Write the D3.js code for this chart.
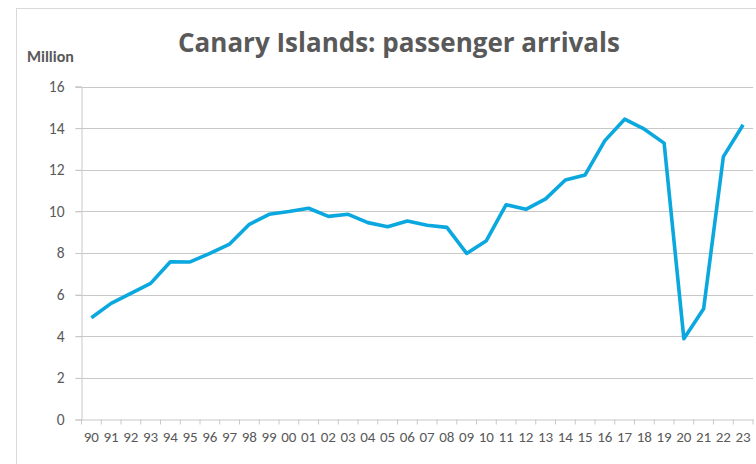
<!DOCTYPE html>
<html>
<head>
<meta charset="utf-8">
<script src="https://cdn.jsdelivr.net/npm/d3@7"></script>
<style>
  body { margin: 0; background: #fff; }
  svg { display: block; }
</style>
</head>
<body>
<div id="chart"></div>
<script>
const years = ["90","91","92","93","94","95","96","97","98","99","00","01","02","03","04","05","06",
  "07","08","09","10","11","12","13","14","15","16","17","18","19","20","21","22","23"];
const arrivals = [4.89, 5.58, 6.06, 6.54, 7.58, 7.57, 7.98, 8.43, 9.38, 9.86, 9.99, 10.15, 9.76, 9.86,
  9.46, 9.26, 9.54, 9.33, 9.23, 7.98, 8.59, 10.32, 10.10, 10.60, 11.51, 11.75, 13.40, 14.43, 13.95,
  13.28, 3.88, 5.32, 12.63, 14.16];
const yTicks = [0, 2, 4, 6, 8, 10, 12, 14, 16];

const width = 756;
const height = 464;
const plot = { left: 81.5, right: 753, top: 86.5, bottom: 419.5 };
const font = "Calibri, Carlito, Lato, sans-serif";
const grey = "#595959";

const svg = d3.select("#chart")
  .append("svg")
  .attr("width", width)
  .attr("height", height)
  .style("font-family", font);

// chart frame
svg.append("rect")
  .attr("x", 16.5).attr("y", 8.5)
  .attr("width", 760).attr("height", 480)
  .attr("fill", "none")
  .attr("stroke", "#d9d9d9");

const x = d3.scaleBand().domain(years).range([plot.left, plot.right]);
const y = d3.scaleLinear().domain([0, 16]).range([plot.bottom, plot.top]);

// gridlines
svg.append("g")
  .selectAll("line")
  .data(yTicks.slice(1))
  .join("line")
  .attr("x1", plot.left - 6).attr("x2", plot.right)
  .attr("y1", (d) => Math.round(y(d)) + 0.5)
  .attr("y2", (d) => Math.round(y(d)) + 0.5)
  .attr("stroke", "#c8c8c8");

// y axis
const yAxis = svg.append("g")
  .attr("transform", `translate(${plot.left}, 0)`)
  .call(d3.axisLeft(y).tickValues(yTicks).tickSize(6).tickPadding(11));
yAxis.select(".domain").attr("stroke", "#c8c8c8");
yAxis.selectAll(".tick line").attr("stroke", "#c8c8c8");
yAxis.selectAll("text").attr("fill", grey).style("font-size", "15.5px").style("font-family", font);

// x axis
const xAxis = svg.append("g")
  .attr("transform", `translate(0, ${plot.bottom})`)
  .call(d3.axisBottom(x).tickSize(0).tickPadding(12));
xAxis.select(".domain").attr("stroke", "#c8c8c8");
xAxis.selectAll("text").attr("fill", grey).style("font-size", "15px").style("font-family", font);

// tick marks between categories
svg.append("g")
  .selectAll("line")
  .data(years.concat(["end"]))
  .join("line")
  .attr("x1", (d, i) => plot.left + i * x.step())
  .attr("x2", (d, i) => plot.left + i * x.step())
  .attr("y1", plot.bottom).attr("y2", plot.bottom + 5)
  .attr("stroke", "#c8c8c8");

// the line
const line = d3.line()
  .x((d, i) => x(years[i]) + x.bandwidth() / 2)
  .y((d) => y(d));

svg.append("path")
  .datum(arrivals)
  .attr("d", line)
  .attr("fill", "none")
  .attr("stroke", "#0aa8de")
  .attr("stroke-width", 3.6)
  .attr("stroke-linejoin", "round");

// title and unit label
svg.append("text")
  .attr("x", 399).attr("y", 52)
  .attr("text-anchor", "middle")
  .attr("fill", grey)
  .style("font-family", "'Open Sans', sans-serif")
  .style("font-size", "26px")
  .style("font-weight", "bold")
  .text("Canary Islands: passenger arrivals");

svg.append("text")
  .attr("x", 27).attr("y", 62)
  .attr("fill", grey)
  .style("font-size", "16px")
  .style("font-weight", "bold")
  .text("Million");
</script>
</body>
</html>
